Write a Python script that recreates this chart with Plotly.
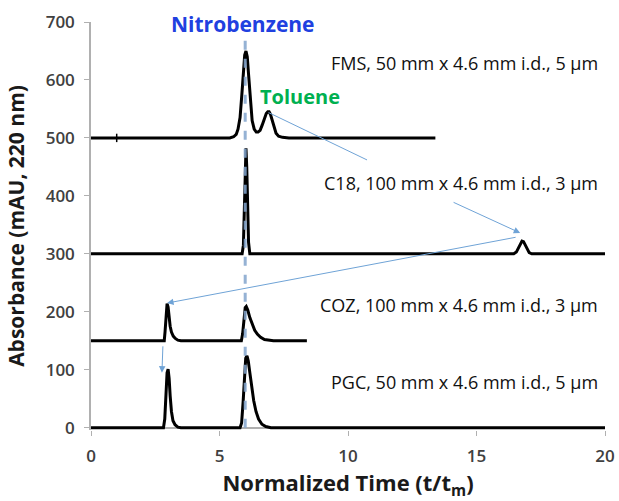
import plotly.graph_objects as go

# ---- data ----
fms_x = [0, 5.4, 5.55, 5.65, 5.72, 5.8, 5.87, 5.93, 5.98, 6.03, 6.08, 6.13, 6.2, 6.27, 6.35, 6.43, 6.5, 6.58, 6.66, 6.74, 6.82, 6.88, 6.93, 6.98, 7.05, 7.12, 7.2, 7.3, 7.45, 7.7, 13.4]
fms_y = [500, 500, 502, 506, 515, 535, 575, 620, 643, 650, 640, 610, 565, 530, 515, 510, 510, 513, 522, 533, 542, 545, 545, 541, 530, 518, 508, 503, 501, 500, 500]

c18_x = [0, 5.88, 5.93, 5.97, 6.0, 6.03, 6.06, 6.09, 6.13, 6.18, 16.45, 16.55, 16.63, 16.7, 16.77, 16.83, 16.9, 16.97, 17.05, 17.15, 20]
c18_y = [300, 300, 315, 380, 450, 482, 450, 380, 320, 300, 300, 303, 310, 318, 322, 321, 315, 307, 302, 300, 300]

coz_x = [0, 2.85, 2.88, 2.92, 2.96, 3.0, 3.04, 3.08, 3.13, 3.2, 3.28, 3.38, 3.5, 5.85, 5.9, 5.95, 6.0, 6.04, 6.1, 6.18, 6.27, 6.37, 6.48, 6.6, 6.75, 6.9, 7.1, 8.4]
coz_y = [150, 150, 165, 200, 214, 208, 190, 175, 165, 158, 154, 151, 150, 150, 162, 190, 207, 209, 203, 190, 178, 168, 161, 156, 152, 151, 150, 150]

pgc_x = [0, 2.82, 2.87, 2.92, 2.96, 3.0, 3.04, 3.08, 3.13, 3.19, 3.27, 3.38, 3.5, 5.8, 5.86, 5.92, 5.97, 6.02, 6.07, 6.12, 6.18, 6.25, 6.33, 6.42, 6.52, 6.65, 6.8, 7.0, 20]
pgc_y = [0, 0, 15, 60, 95, 101, 85, 55, 28, 12, 5, 1, 0, 0, 8, 45, 95, 120, 124, 115, 95, 70, 47, 28, 15, 6, 2, 0, 0]

column_labels = ["FMS, 50 mm x 4.6 mm i.d., 5 µm",
                 "C18, 100 mm x 4.6 mm i.d., 3 µm",
                 "COZ, 100 mm x 4.6 mm i.d., 3 µm",
                 "PGC, 50 mm x 4.6 mm i.d., 5 µm"]
label_y = [629, 422, 212, 79]

x_ticks = [0, 5, 10, 15, 20]
y_ticks = [0, 100, 200, 300, 400, 500, 600, 700]
nitro_x = 6.0

FONT = "Open Sans"

fig = go.Figure()
for xs, ys in [(fms_x, fms_y), (c18_x, c18_y), (coz_x, coz_y), (pgc_x, pgc_y)]:
    fig.add_trace(go.Scatter(x=xs, y=ys, mode="lines",
                             line=dict(color="black", width=3, shape="linear"),
                             hoverinfo="skip", showlegend=False))

# small tick mark on FMS baseline
fig.add_trace(go.Scatter(x=[1.0], y=[500], mode="markers",
                         marker=dict(symbol="line-ns", size=6, line=dict(color="black", width=1.5)),
                         showlegend=False, hoverinfo="skip"))

# dashed nitrobenzene line
fig.add_shape(type="line", x0=nitro_x, x1=nitro_x, y0=0, y1=668, xref="x", yref="y",
              line=dict(color="rgba(130,165,205,0.85)", width=3, dash="dash"), layer="above")

ann = []
for t, yy in zip(column_labels, label_y):
    ann.append(dict(x=19.8, y=yy, xref="x", yref="y", text=t, showarrow=False,
                    xanchor="right", yanchor="middle",
                    font=dict(family=FONT, size=18, color="#111111")))
ann.append(dict(x=5.9, y=697, xref="x", yref="y", text="<b>Nitrobenzene</b>", showarrow=False,
                xanchor="center", yanchor="middle", font=dict(family=FONT, size=21, color="#2040e0")))
ann.append(dict(x=6.5, y=571, xref="x", yref="y", text="<b>Toluene</b>", showarrow=False,
                xanchor="left", yanchor="middle", font=dict(family=FONT, size=20, color="#00b050")))

ARROW = "#6fa3d6"
arrows = [
    # (tail x, tail y, head x, head y, arrowhead)
    (6.85, 545, 10.74, 462, 0),
    (14.05, 390, 16.7, 336, 2),
    (16.58, 329, 2.96, 215, 2),
    (2.8, 143, 2.76, 95, 2),
]
for ax_, ay_, x_, y_, head in arrows:
    ann.append(dict(x=x_, y=y_, ax=ax_, ay=ay_, xref="x", yref="y", axref="x", ayref="y",
                    text="", showarrow=True, arrowhead=head, arrowsize=1.3, arrowwidth=1,
                    arrowcolor=ARROW, standoff=0, startstandoff=0))

fig.update_layout(
    width=619, height=501,
    margin=dict(l=91, r=14, t=22, b=71),
    paper_bgcolor="white", plot_bgcolor="white",
    annotations=ann,
    font=dict(family=FONT),
    xaxis=dict(range=[0, 20], tickvals=x_ticks, ticktext=[str(v) for v in x_ticks],
               showgrid=False, zeroline=False, showline=False, automargin=False,
               ticks="outside", ticklen=5, tickcolor="#b0b0b0", tickwidth=1,
               ticklabelstandoff=6,
               tickfont=dict(family=FONT, size=17, color="#404040", weight=600),
               title=dict(text="<b>Normalized Time (t/t<sub>m</sub>)</b>",
                          font=dict(family=FONT, size=22, color="#1a1a1a"))),
    yaxis=dict(range=[-4, 700], tickvals=y_ticks, ticktext=[str(v) for v in y_ticks],
               showgrid=False, zeroline=True, zerolinecolor="#b0b0b0", zerolinewidth=1.5,
               showline=True, linecolor="#b0b0b0", linewidth=1.5, automargin=False,
               ticks="outside", ticklen=5, tickcolor="#b0b0b0", tickwidth=1,
               ticklabelstandoff=6,
               tickfont=dict(family=FONT, size=17, color="#404040", weight=600),
               title=dict(text="<b>Absorbance (mAU, 220 nm)</b>",
                          font=dict(family=FONT, size=21, color="#1a1a1a"))),
)

fig.write_html("out.html")
